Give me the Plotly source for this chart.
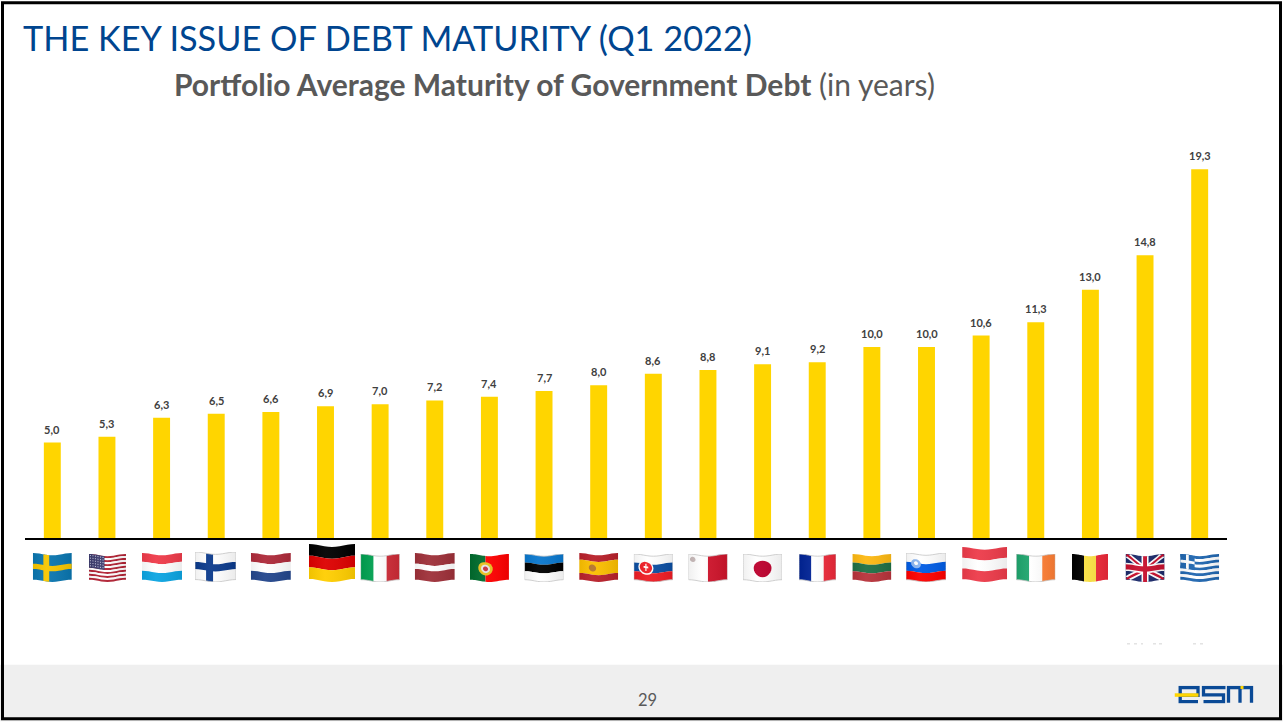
import base64
import math

import plotly.graph_objects as go

# Portfolio average maturity of government debt, in years (Q1 2022)
countries = ["Sweden", "United States", "Luxembourg", "Finland", "Netherlands", "Germany",
             "Italy", "Latvia", "Portugal", "Estonia", "Spain", "Slovakia", "Malta", "Japan",
             "France", "Lithuania", "Slovenia", "Austria", "Ireland", "Belgium",
             "United Kingdom", "Greece"]
maturity_years = [5.0, 5.3, 6.3, 6.5, 6.6, 6.9, 7.0, 7.2, 7.4, 7.7, 8.0, 8.6, 8.8, 9.1, 9.2,
                  10.0, 10.0, 10.6, 11.3, 13.0, 14.8, 19.3]

title_text = "THE KEY ISSUE OF DEBT MATURITY (Q1 2022)"
subtitle_bold = "Portfolio Average Maturity of Government Debt"
subtitle_plain = " (in years)"
page_number = "29"

W, H = 1283, 722
PLOT_L, PLOT_R, PLOT_T, PLOT_B = 25, 1227, 156, 538.5
BLUE = "#00458F"
YELLOW = "#FFD500"
GREY_TEXT = "#595959"


def hbands(*bands):
    """Equal or weighted horizontal stripes: (colour, share) pairs."""
    total = sum(b[1] for b in bands)
    out, y = [], 0.0
    for colour, share in bands:
        out.append(rect(colour, 0, 1, y, y + share / total))
        y += share / total
    return out


def vbands(*colours):
    n = len(colours)
    return [rect(c, i / n, (i + 1) / n, 0, 1) for i, c in enumerate(colours)]


def rect(colour, x0, x1, y0, y1):
    return (colour, [(x0, y0), (x1, y0), (x1, y1), (x0, y1)])


def disc(colour, cx, cy, r, aspect=1.4):
    pts = [(cx + r * math.cos(t * math.pi / 12) / aspect, cy + r * math.sin(t * math.pi / 12))
           for t in range(24)]
    return (colour, pts)


def diagonal(colour, thick):
    return [(colour, [(0, thick), (thick, 0), (1, 1 - thick), (1 - thick, 1)]),
            (colour, [(1 - thick, 0), (1, thick), (thick, 1), (0, 1 - thick)])]


def us_flag():
    parts = [rect("#B22234" if i % 2 == 0 else "#FFFFFF", 0, 1, i / 13, (i + 1) / 13) for i in range(13)]
    parts.append(rect("#3C3B6E", 0, 0.42, 0, 7 / 13))
    for row in range(5):
        for col in range(6):
            parts.append(disc("#C9CBE0", 0.04 + col * 0.068, 0.06 + row * 0.1, 0.022))
    return parts


def gb_flag():
    return ([rect("#1B2A6B", 0, 1, 0, 1)] + diagonal("#FFFFFF", 0.13) + diagonal("#C8102E", 0.05)
            + [rect("#FFFFFF", 0.41, 0.59, 0, 1), rect("#FFFFFF", 0, 1, 0.34, 0.66),
               rect("#C8102E", 0.45, 0.55, 0, 1), rect("#C8102E", 0, 1, 0.4, 0.6)])


def gr_flag():
    parts = [rect("#1F66B0" if i % 2 == 0 else "#FFFFFF", 0, 1, i / 9, (i + 1) / 9) for i in range(9)]
    parts += [rect("#1F66B0", 0, 0.37, 0, 5 / 9), rect("#FFFFFF", 0.15, 0.22, 0, 5 / 9),
              rect("#FFFFFF", 0, 0.37, 2 / 9, 3 / 9)]
    return parts


# Stylised waving flags, built from stripes and simple polygons in unit coordinates
flag_art = {
    "Sweden": [rect("#0A76B0", 0, 1, 0, 1), rect("#F7C600", 0.27, 0.42, 0, 1), rect("#F7C600", 0, 1, 0.4, 0.6)],
    "United States": us_flag(),
    "Luxembourg": hbands(("#EF3B4A", 1), ("#FFFFFF", 1), ("#0CA5E2", 1)),
    "Finland": [rect("#FFFFFF", 0, 1, 0, 1), rect("#0B3A8C", 0.27, 0.44, 0, 1), rect("#0B3A8C", 0, 1, 0.36, 0.62)],
    "Netherlands": hbands(("#AE2A3A", 1), ("#FFFFFF", 1), ("#23468C", 1)),
    "Germany": hbands(("#000000", 1), ("#DD0000", 1), ("#FFCE00", 1)),
    "Italy": vbands("#00A050", "#FFFFFF", "#CE2B37"),
    "Latvia": hbands(("#9E3039", 2), ("#FFFFFF", 1), ("#9E3039", 2)),
    "Portugal": [rect("#006B2D", 0, 0.4, 0, 1), rect("#FF0000", 0.4, 1, 0, 1), disc("#E8C020", 0.4, 0.5, 0.26),
                 disc("#E4E4E4", 0.4, 0.5, 0.16), disc("#C83040", 0.4, 0.5, 0.09)],
    "Estonia": hbands(("#0A78CE", 1), ("#000000", 1), ("#FFFFFF", 1)),
    "Spain": hbands(("#B8202A", 1), ("#FBBF00", 2), ("#B8202A", 1)) + [disc("#B5752A", 0.34, 0.5, 0.13)],
    "Slovakia": hbands(("#FFFFFF", 1), ("#0B4EA2", 1), ("#EE1C25", 1))
                + [disc("#FFFFFF", 0.31, 0.48, 0.27), disc("#EE1C25", 0.31, 0.47, 0.22),
                   rect("#FFFFFF", 0.295, 0.325, 0.32, 0.6), rect("#FFFFFF", 0.25, 0.37, 0.42, 0.49)],
    "Malta": [rect("#FFFFFF", 0, 0.5, 0, 1), rect("#CF142B", 0.5, 1, 0, 1), disc("#C8BABA", 0.11, 0.2, 0.1)],
    "Japan": [rect("#FFFFFF", 0, 1, 0, 1), disc("#BC002D", 0.5, 0.5, 0.32)],
    "France": vbands("#002395", "#FFFFFF", "#ED2939"),
    "Lithuania": hbands(("#FDB913", 1), ("#1F7045", 1), ("#B8333B", 1)),
    "Slovenia": hbands(("#FFFFFF", 1), ("#005CE5", 1), ("#FF0000", 1))
                + [disc("#8AB4F0", 0.25, 0.36, 0.17), disc("#FFFFFF", 0.25, 0.34, 0.07)],
    "Austria": hbands(("#ED3B4A", 1), ("#FFFFFF", 1), ("#ED3B4A", 1)),
    "Ireland": vbands("#1FA66E", "#FFFFFF", "#FF7F35"),
    "Belgium": vbands("#000000", "#FAE042", "#ED2939"),
    "United Kingdom": gb_flag(),
    "Greece": gr_flag(),
}

# Drawn size of each flag (pixels) and sideways nudge from the category centre
flag_box = {
    "Germany": (46, 38, 6.5), "Austria": (45, 35, 3.5), "Finland": (41, 30, -0.7), "Sweden": (39, 29, 0),
    "Luxembourg": (40, 29, 0.4), "Netherlands": (40, 29, 0), "United States": (37, 28, 0.5),
    "Belgium": (36, 28, -0.4), "France": (37, 28, 0.3), "Slovenia": (40, 29, -0.5),
    "Latvia": (40, 29, 0), "Spain": (39, 29, 0),
}
FLAG_BOTTOM = 582.5
WHITE_EDGED = {"Finland", "Malta", "Japan", "Estonia", "Italy", "Ireland", "Slovenia", "Slovakia", "France"}


def flag_svg(parts, w, h, edged):
    amp = 0.04

    def warp(x, y):
        return (x * w, (amp + y * (1 - 2 * amp) - amp * math.cos(2 * math.pi * x)) * h)

    def polygon(points):
        fine = []
        for (x0, y0), (x1, y1) in zip(points, points[1:] + points[:1]):
            steps = 12 if len(points) < 8 else 1
            fine += [warp(x0 + (x1 - x0) * s / steps, y0 + (y1 - y0) * s / steps) for s in range(steps)]
        return " ".join(f"{x:.2f},{y:.2f}" for x, y in fine)

    outline = [(0, 0), (1, 0), (1, 1), (0, 1)]
    body = "".join(f'<polygon points="{polygon(pts)}" fill="{c}"/>' for c, pts in parts)
    edge = (f'<polygon points="{polygon(outline)}" fill="none" stroke="#C4C4C4" stroke-width="0.8"/>'
            if edged else "")
    shade = (f'<polygon points="{polygon(outline)}" fill="url(#s)"/>')
    svg = (f'<svg xmlns="http://www.w3.org/2000/svg" width="{w}" height="{h}" viewBox="0 0 {w} {h}">'
           '<defs><linearGradient id="s" x1="0" x2="1" y1="0" y2="0">'
           '<stop offset="0" stop-color="#000" stop-opacity="0.06"/>'
           '<stop offset="0.35" stop-color="#fff" stop-opacity="0.05"/>'
           '<stop offset="1" stop-color="#000" stop-opacity="0.08"/></linearGradient></defs>'
           f"{body}{shade}{edge}</svg>")
    return "data:image/svg+xml;base64," + base64.b64encode(svg.encode()).decode()


def logo_svg():
    navy = "#0A4A96"
    paths = [
        "M1.7 10 V1.7 H19.5 V9.5 H1.7 M1.7 9.5 V15.8 H19.5",   # e
        "M47 1.7 H25 V9 H45 V15.8 H25",                        # s
        "M50 17 V1.7 H73 V17 M61.5 1.7 V17",                   # m
    ]
    strokes = "".join(f'<path d="{d}" fill="none" stroke="{navy}" stroke-width="3.3"/>' for d in paths)
    svg = ('<svg xmlns="http://www.w3.org/2000/svg" width="80" height="18" viewBox="-4 0 80 18">'
           f"{strokes}"
           f'<rect x="-4" y="7.5" width="24" height="3.5" fill="{YELLOW}"/>'
           f'<rect x="62" y="0" width="3" height="3.2" fill="{YELLOW}"/></svg>')
    return "data:image/svg+xml;base64," + base64.b64encode(svg.encode()).decode()


def paper_x(px):
    return (px - PLOT_L) / (PLOT_R - PLOT_L)


def paper_y(px):
    return (PLOT_B - px) / (PLOT_B - PLOT_T)


fig = go.Figure(go.Bar(
    x=countries,
    y=maturity_years,
    marker=dict(color=YELLOW, line=dict(width=0)),
    hoverinfo="x+y",
))

# Value labels above each bar, with a decimal comma
annotations = [
    dict(x=c, y=v, text=f"<b>{v:.1f}</b>".replace(".", ","), showarrow=False, xref="x", yref="y",
         yanchor="middle", yshift=13.5, font=dict(family="Lato", size=11, color="#404040"))
    for c, v in zip(countries, maturity_years)
]

annotations += [
    dict(xref="paper", yref="paper", x=paper_x(20.5), y=paper_y(37.5), xanchor="left", yanchor="middle",
         text=title_text, showarrow=False, font=dict(family="Lato", size=34.3, color=BLUE)),
    dict(xref="paper", yref="paper", x=paper_x(172), y=paper_y(83.5), xanchor="left", yanchor="middle",
         text=f"<b>{subtitle_bold}</b>{subtitle_plain}", showarrow=False,
         font=dict(family="Lato", size=30, color=GREY_TEXT)),
    dict(xref="paper", yref="paper", x=paper_x(647), y=paper_y(700.5), xanchor="center", yanchor="middle",
         text=page_number, showarrow=False, font=dict(family="Lato", size=16.5, color=GREY_TEXT)),
]

images = []
unit = (PLOT_R - PLOT_L) / len(countries)
for i, name in enumerate(countries):
    w, h, nudge = flag_box.get(name, (39, 28, 0))
    images.append(dict(
        source=flag_svg(flag_art[name], w, h, name in WHITE_EDGED),
        xref="x", yref="paper",
        x=i + nudge / unit, y=paper_y(FLAG_BOTTOM),
        sizex=w / unit, sizey=h / (PLOT_B - PLOT_T),
        xanchor="center", yanchor="bottom", sizing="stretch", layer="above",
    ))
images.append(dict(
    source=logo_svg(), xref="paper", yref="paper",
    x=paper_x(1174.5), y=paper_y(686.5), sizex=80 / (PLOT_R - PLOT_L), sizey=18 / (PLOT_B - PLOT_T),
    xanchor="left", yanchor="top", sizing="stretch", layer="above",
))

# Slide furniture: footer band, frame and the clipped remains of a source note
shapes = [
    dict(type="rect", xref="paper", yref="paper", layer="below", line=dict(width=0), fillcolor="#EFEFEF",
         x0=paper_x(0), x1=paper_x(W), y0=paper_y(665.5), y1=paper_y(722)),
    dict(type="rect", xref="paper", yref="paper", layer="above", fillcolor="rgba(0,0,0,0)",
         line=dict(color="#000000", width=3),
         x0=paper_x(2.5), x1=paper_x(1280.5), y0=paper_y(2.5), y1=paper_y(719.5)),
]
for x0, x1 in [(1127, 1130), (1134, 1137), (1141, 1143), (1153, 1156), (1159, 1162), (1193, 1196), (1200, 1203)]:
    shapes.append(dict(type="line", xref="paper", yref="paper", layer="below",
                       line=dict(color="#D4D4D4", width=1),
                       x0=paper_x(x0), x1=paper_x(x1), y0=paper_y(644.5), y1=paper_y(644.5)))

fig.update_layout(
    width=W, height=H,
    margin=dict(l=PLOT_L, r=W - PLOT_R, t=PLOT_T, b=H - PLOT_B, pad=0),
    paper_bgcolor="#FFFFFF", plot_bgcolor="rgba(0,0,0,0)",
    bargap=0.69, showlegend=False,
    xaxis=dict(type="category", showline=True, linecolor="#000000", linewidth=1.5,
               showticklabels=False, ticks="", showgrid=False, zeroline=False),
    yaxis=dict(range=[0, 20], visible=False, showgrid=False, zeroline=False),
    annotations=annotations, images=images, shapes=shapes,
)

fig.write_html("out.html")
